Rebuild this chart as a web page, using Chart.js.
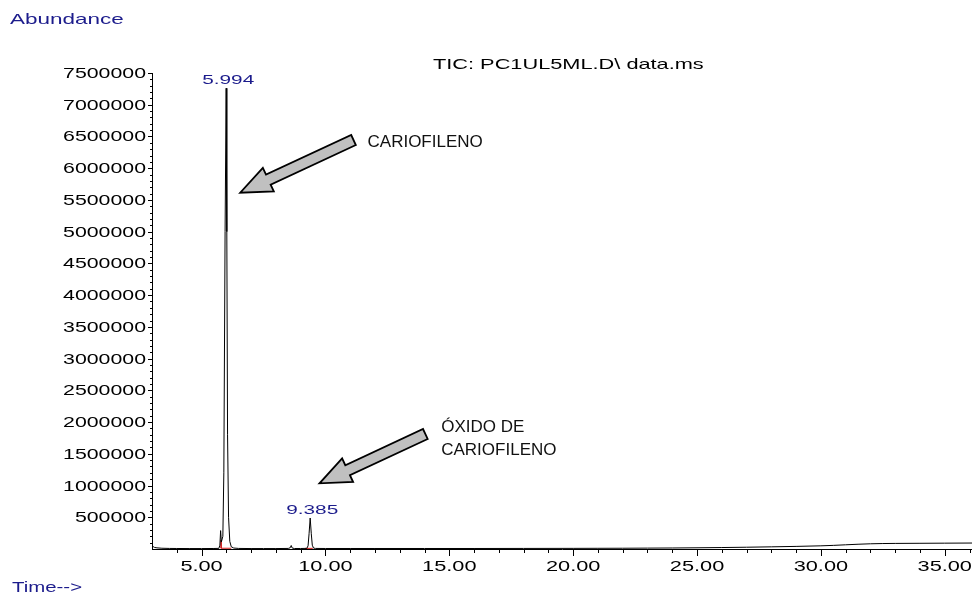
<!DOCTYPE html>
<html>
<head>
<meta charset="utf-8">
<script src="https://cdn.jsdelivr.net/npm/chart.js@4.4.1/dist/chart.umd.min.js"></script>
<style>
  html, body { margin: 0; padding: 0; background: #fff; }
  #wrap { width: 972px; height: 594px; }
</style>
</head>
<body>
<div id="wrap"><canvas id="tic-chart" width="972" height="594"></canvas></div>
<script>
// retention time (min) and abundance
const times = [3.00, 3.05, 3.10, 3.20, 3.40, 3.70, 4.00, 4.50, 5.00, 5.50, 5.70, 5.74, 5.77, 5.80, 5.86,
  5.90, 5.95, 5.994, 6.02, 6.05, 6.09, 6.14, 6.20, 6.30, 6.50, 7.00, 7.50, 8.00, 8.50, 8.58, 8.62, 8.66,
  8.75, 9.00, 9.25, 9.30, 9.34, 9.385, 9.43, 9.47, 9.52, 9.60, 10.00, 11.00, 12.00, 14.00, 16.00, 18.00,
  20.00, 21.00, 22.00, 23.00, 24.00, 25.00, 26.00, 27.00, 28.00, 29.00, 30.00, 30.50, 31.00, 31.50,
  32.00, 32.50, 33.00, 34.00, 35.00, 36.10];
const abundance = [55000, 35000, 25000, 18000, 12000, 9000, 8000, 7000, 7000, 8000, 10000, 60000, 290000, 110000, 200000,
  1200000, 5000000, 7260000, 5000000, 1800000, 500000, 120000, 35000, 15000, 9000, 7000, 7000, 7000, 9000, 20000, 55000, 15000,
  8000, 8000, 10000, 50000, 240000, 488000, 240000, 60000, 15000, 9000, 8000, 8000, 8000, 8000, 8000, 9000,
  10000, 11000, 12000, 14000, 16000, 19000, 23000, 28000, 34000, 41000, 50000, 57000, 66000, 75000,
  82000, 86000, 88000, 90000, 92000, 94000];

// integration baselines (red)
const base1Times = [5.79, 5.79, 6.20];
const base1Values = [140000, 12000, 12000];
const base2Times = [9.18, 9.49];
const base2Values = [10000, 10000];

const peakTimes = [5.994, 9.385];
const peakValues = [7260000, 488000];

const xTickValues = [5, 10, 15, 20, 25, 30, 35];
const yTickValues = [500000, 1000000, 1500000, 2000000, 2500000, 3000000, 3500000, 4000000,
  4500000, 5000000, 5500000, 6000000, 6500000, 7000000, 7500000];

const titleText = 'TIC: PC1UL5ML.D\\ data.ms';

// arrows and notes, in data coordinates
const arrows = [
  { from: [11.135, 6444000], to: [6.561, 5614000] },
  { from: [14.034, 1812000], to: [9.762, 1035000] }
];
const notes = [
  { text: 'CARIOFILENO', at: [11.70, 6334000] },
  { text: 'ÓXIDO DE', at: [14.675, 1848000] },
  { text: 'CARIOFILENO', at: [14.675, 1481000] }
];

const FONT = '"Liberation Sans", Arial, sans-serif';
const BLUE = '#1c1c8c';

function toPoints(xs, ys) {
  return xs.map((t, i) => ({ x: t, y: ys[i] }));
}

function stretchText(ctx, text, x, y, align, sx, size, color) {
  ctx.save();
  ctx.font = size + 'px ' + FONT;
  ctx.fillStyle = color;
  ctx.textAlign = align;
  ctx.textBaseline = 'alphabetic';
  ctx.translate(x, y);
  ctx.scale(sx, 1);
  ctx.fillText(text, 0, 0);
  ctx.restore();
}

function drawArrow(ctx, x1, y1, x2, y2) {
  const ang = Math.atan2(y2 - y1, x2 - x1);
  const len = Math.hypot(x2 - x1, y2 - y1);
  const headLen = 31, headHalf = 13, shaftHalf = 5.5;
  ctx.save();
  ctx.translate(x1, y1);
  ctx.rotate(ang);
  ctx.beginPath();
  ctx.moveTo(0, -shaftHalf);
  ctx.lineTo(len - headLen, -shaftHalf);
  ctx.lineTo(len - headLen, -headHalf);
  ctx.lineTo(len, 0);
  ctx.lineTo(len - headLen, headHalf);
  ctx.lineTo(len - headLen, shaftHalf);
  ctx.lineTo(0, shaftHalf);
  ctx.closePath();
  ctx.fillStyle = '#c0c0c0';
  ctx.fill();
  ctx.lineWidth = 1.8;
  ctx.strokeStyle = '#000';
  ctx.stroke();
  ctx.restore();
}

const decor = {
  id: 'decor',
  afterDraw(chart) {
    const { ctx, chartArea } = chart;
    const x = chart.scales.x, y = chart.scales.y;
    const bottom = chartArea.bottom, left = chartArea.left;

    ctx.save();
    ctx.strokeStyle = '#000';
    ctx.lineWidth = 1;
    // x ticks: minor every minute, longer at labels
    for (let t = 4; t <= 36; t++) {
      const px = Math.round(x.getPixelForValue(t)) + 0.5;
      const len = t % 5 === 0 ? 7 : 4;
      ctx.beginPath();
      ctx.moveTo(px, bottom);
      ctx.lineTo(px, bottom + len);
      ctx.stroke();
    }
    // y ticks
    for (let v = 100000; v <= 7500000; v += 100000) {
      const py = Math.round(y.getPixelForValue(v)) + 0.5;
      const len = v % 500000 === 0 ? 4 : 2;
      ctx.beginPath();
      ctx.moveTo(left - len, py);
      ctx.lineTo(left, py);
      ctx.stroke();
    }
    ctx.restore();

    x.ticks.forEach(tk => {
      stretchText(ctx, tk.value.toFixed(2), x.getPixelForValue(tk.value), bottom + 22, 'center', 1.45, 15, '#000');
    });
    y.ticks.forEach(tk => {
      stretchText(ctx, String(tk.value), left - 6, y.getPixelForValue(tk.value) + 5, 'right', 1.42, 15, '#000');
    });

    peakTimes.forEach((t, i) => {
      stretchText(ctx, t.toFixed(3), x.getPixelForValue(t) + 2, y.getPixelForValue(peakValues[i]) - 4, 'center', 1.6, 13, BLUE);
    });

    stretchText(ctx, titleText, 433, 69, 'left', 1.45, 15, '#000');
    stretchText(ctx, 'Abundance', 10, 24, 'left', 1.5, 15, BLUE);
    stretchText(ctx, 'Time-->', 12, 592, 'left', 1.36, 15, BLUE);

    arrows.forEach(a => {
      drawArrow(ctx, x.getPixelForValue(a.from[0]), y.getPixelForValue(a.from[1]),
        x.getPixelForValue(a.to[0]), y.getPixelForValue(a.to[1]));
    });
    notes.forEach(n => {
      stretchText(ctx, n.text, x.getPixelForValue(n.at[0]), y.getPixelForValue(n.at[1]), 'left', 1, 17, '#111');
    });
  }
};

new Chart(document.getElementById('tic-chart'), {
  type: 'scatter',
  data: {
    datasets: [
      { data: toPoints(times, abundance), showLine: true, borderColor: '#000', borderWidth: 1, pointRadius: 0, tension: 0 },
      { data: toPoints(base1Times, base1Values), showLine: true, borderColor: '#d01818', borderWidth: 1, pointRadius: 0 },
      { data: toPoints(base2Times, base2Values), showLine: true, borderColor: '#d01818', borderWidth: 1, pointRadius: 0 }
    ]
  },
  options: {
    responsive: false,
    animation: false,
    layout: { padding: { top: 73, right: 0, bottom: 0, left: 0 } },
    plugins: { legend: { display: false }, tooltip: { enabled: false } },
    scales: {
      x: {
        type: 'linear', min: 3, max: 36.1,
        grid: { display: false },
        border: { display: true, color: '#000', width: 1 },
        ticks: { display: false },
        afterBuildTicks: s => { s.ticks = xTickValues.map(v => ({ value: v })); },
        afterFit: s => { s.height = 45; }
      },
      y: {
        type: 'linear', min: 0, max: 7500000,
        grid: { display: false },
        border: { display: true, color: '#000', width: 1 },
        ticks: { display: false },
        afterBuildTicks: s => { s.ticks = yTickValues.map(v => ({ value: v })); },
        afterFit: s => { s.width = 152; }
      }
    }
  },
  plugins: [decor]
});
</script>
</body>
</html>
